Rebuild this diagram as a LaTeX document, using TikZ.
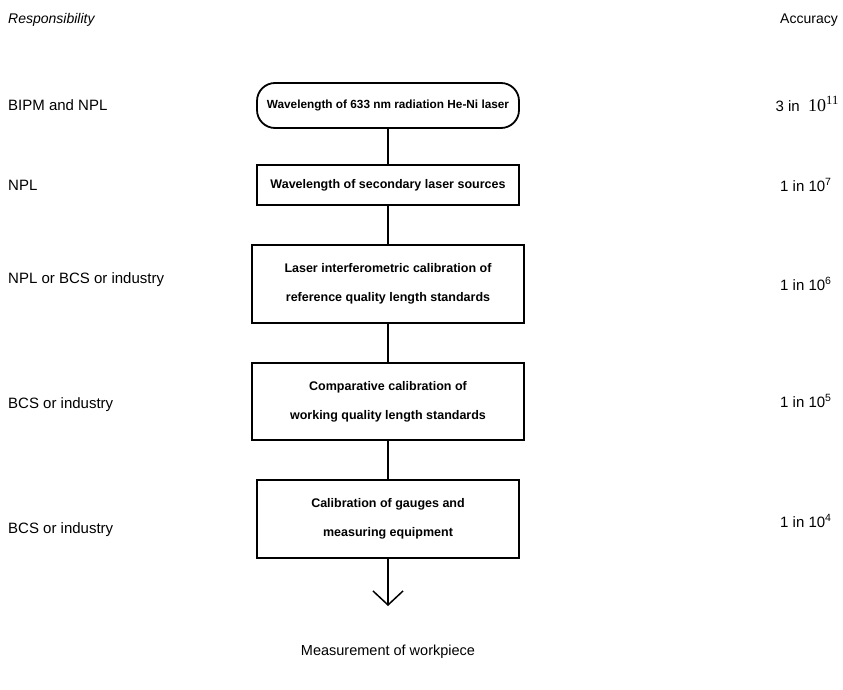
\documentclass[tikz,border=0pt]{standalone}
\usepackage{fontspec}
\setmainfont{Liberation Sans}
\newfontfamily\serifnum{Liberation Serif}
\usetikzlibrary{arrows.meta}
\begin{document}
\begin{tikzpicture}[x=1pt,y=-1pt,
  lbl/.style={anchor=west,font=\fontsize{15}{17}\selectfont,inner sep=0pt},
  acc/.style={anchor=west,font=\fontsize{15}{17}\selectfont,inner sep=0pt},
  box/.style={draw,line width=1.8pt,align=center,font=\bfseries\fontsize{12.5}{29}\selectfont,inner sep=0pt},
  conn/.style={line width=1.5pt}]
\useasboundingbox (0,0) rectangle (843,690);
\node[lbl,font=\itshape\fontsize{14}{16}\selectfont] (hresp) at (8,20) {Responsibility};
\node[acc,anchor=east,font=\fontsize{14}{16}\selectfont] (hacc) at (838,20) {Accuracy};

\node[box,rounded corners=18pt,minimum width=262pt,minimum height=45pt,font=\bfseries\fontsize{11.8}{14}\selectfont] (b1) at (388,105.5) {Wavelength of 633 nm radiation He-Ni laser};
\node[box,minimum width=262pt,minimum height=40pt] (b2) at (388,185) {Wavelength of secondary laser sources};
\node[box,minimum width=272pt,minimum height=78pt] (b3) at (388,284) {Laser interferometric calibration of\\reference quality length standards};
\node[box,minimum width=272pt,minimum height=77pt] (b4) at (388,401.5) {Comparative calibration of\\working quality length standards};
\node[box,minimum width=262pt,minimum height=78pt] (b5) at (388,519) {Calibration of gauges and\\measuring equipment};
\coordinate (aend) at (388,606);
\node[font=\fontsize{14.5}{17}\selectfont,inner sep=0pt] (meas) at (388,652) {Measurement of workpiece};

\draw[conn] (b1.south) -- (b2.north);
\draw[conn] (b2.south) -- (b3.north);
\draw[conn] (b3.south) -- (b4.north);
\draw[conn] (b4.south) -- (b5.north);
\draw[conn,-{Straight Barb[length=14pt,width=30pt,line width=1.5pt]}] (b5.south) -- (aend);

\node[lbl] (r1) at (8,105) {BIPM and NPL};
\node[lbl] (r2) at (8,185) {NPL};
\node[lbl] (r3) at (8,280) {NPL or BCS or industry};
\node[lbl] (r4) at (8,405) {BCS or industry};
\node[lbl] (r5) at (8,530) {BCS or industry};

\node[acc,anchor=east] (a1) at (839,104) {3 in\ \ {\serifnum\fontsize{18}{20}\selectfont 10\textsuperscript{11}}};
\node[acc] (a2) at (780,185) {1 in 10\textsuperscript{7}};
\node[acc] (a3) at (780,284) {1 in 10\textsuperscript{6}};
\node[acc] (a4) at (780,401) {1 in 10\textsuperscript{5}};
\node[acc] (a5) at (780,521) {1 in 10\textsuperscript{4}};
\end{tikzpicture}
\end{document}
